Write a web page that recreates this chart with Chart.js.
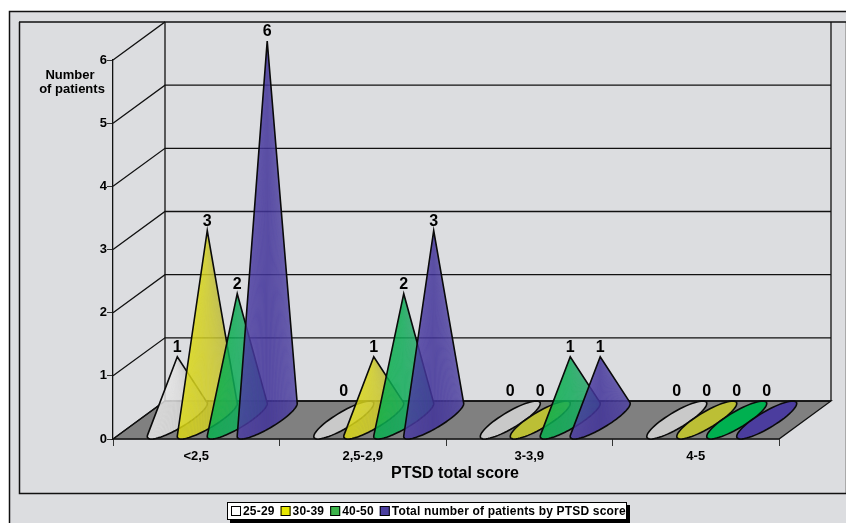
<!DOCTYPE html>
<html>
<head>
<meta charset="utf-8">
<script src="https://cdn.jsdelivr.net/npm/chart.js@4"></script>
<style>
    body { margin: 0; background: #fff; }
    canvas { display: block; }
</style>
</head>
<body>
<canvas id="myChart" width="846" height="523"></canvas>
<script>
const categories = ['<2,5', '2,5-2,9', '3-3,9', '4-5'];
const seriesNames = ['25-29', '30-39', '40-50', 'Total number of patients by PTSD score'];
const age2529 = [1, 0, 0, 0];
const age3039 = [3, 1, 0, 0];
const age4050 = [2, 2, 1, 0];
const totals = [6, 3, 1, 0];
const legendColors = ['#ffffff', '#e6e600', '#3cb34a', '#4b3f9f'];
const flatColors = ['#c9c9c9', '#bcbf35', '#00b050', '#4b3d9e'];
// left, middle and right shade of each cone
const coneShades = [
    [[245, 245, 245], [222, 222, 222], [178, 178, 178]],
    [[232, 230, 0], [208, 205, 40], [170, 168, 85]],
    [[0, 180, 65], [18, 172, 90], [60, 160, 120]],
    [[88, 74, 172], [66, 52, 154], [98, 88, 172]],
];

const PANEL = '#dcdde0';
const FLOOR = '#808080';
const DEPTH_X = 52;
const DEPTH_Y = 38;
const FONT = '"Liberation Sans", Arial, sans-serif';

const mix = (a, b, k) => a.map((v, i) => Math.round(v + (b[i] - v) * k));

const shadeAt = (shades, k, alpha) => {
    const c = k < 0.5 ? mix(shades[0], shades[1], k * 2) : mix(shades[1], shades[2], k * 2 - 1);
    return `rgba(${c[0]},${c[1]},${c[2]},${alpha})`;
};

const drawFrame = (ctx, w, h) => {
    ctx.fillStyle = PANEL;
    ctx.fillRect(9, 11, w - 9, h - 11);
    ctx.fillStyle = '#aaa';
    ctx.fillRect(w - 1, 22, 1, 471);
    ctx.strokeStyle = '#111';
    ctx.lineWidth = 1.5;
    ctx.beginPath();
    ctx.moveTo(9.5, h);
    ctx.lineTo(9.5, 11.5);
    ctx.lineTo(w, 11.5);
    ctx.moveTo(19.5, 22);
    ctx.lineTo(19.5, 493.5);
    ctx.lineTo(w, 493.5);
    ctx.stroke();
};

// boxed legend with a hard shadow
const drawLegend = (ctx) => {
    const bx = 227;
    const by = 502;
    const bw = 400;
    const bh = 18;
    ctx.fillStyle = '#000';
    ctx.fillRect(bx + 3, by + 3, bw, bh);
    ctx.fillStyle = '#fff';
    ctx.fillRect(bx, by, bw, bh);
    ctx.strokeStyle = '#000';
    ctx.lineWidth = 1;
    ctx.strokeRect(bx + 0.5, by + 0.5, bw - 1, bh - 1);

    ctx.font = `bold 12px ${FONT}`;
    ctx.letterSpacing = '0.18px';
    ctx.textAlign = 'left';
    ctx.textBaseline = 'middle';
    let x = 231;
    seriesNames.forEach((name, i) => {
        ctx.fillStyle = legendColors[i];
        ctx.fillRect(x, by + 4, 10, 10);
        ctx.strokeRect(x + 0.5, by + 4.5, 9, 9);
        ctx.fillStyle = '#000';
        ctx.fillText(name, x + 12, by + 9.5);
        x += 12 + ctx.measureText(name).width + 6;
    });
    ctx.letterSpacing = '0px';
};

const drawWalls = (chart) => {
    const { ctx } = chart;
    const { x: xs, y: ys } = chart.scales;
    const left = xs.left;
    const right = xs.right;
    const base = ys.getPixelForValue(0);
    const top = ys.getPixelForValue(6);

    ctx.fillStyle = FLOOR;
    ctx.strokeStyle = '#111';
    ctx.lineWidth = 1.3;
    ctx.beginPath();
    ctx.moveTo(left, base);
    ctx.lineTo(right, base);
    ctx.lineTo(right + DEPTH_X, base - DEPTH_Y);
    ctx.lineTo(left + DEPTH_X, base - DEPTH_Y);
    ctx.closePath();
    ctx.fill();
    ctx.stroke();

    ys.ticks.forEach((tick) => {
        const y = ys.getPixelForValue(tick.value);
        ctx.beginPath();
        ctx.moveTo(left, y);
        ctx.lineTo(left + DEPTH_X, y - DEPTH_Y);
        ctx.lineTo(right + DEPTH_X, y - DEPTH_Y);
        ctx.stroke();
    });

    ctx.beginPath();
    ctx.moveTo(left + DEPTH_X, base - DEPTH_Y);
    ctx.lineTo(left + DEPTH_X, top - DEPTH_Y);
    ctx.moveTo(right + DEPTH_X, base - DEPTH_Y);
    ctx.lineTo(right + DEPTH_X, top - DEPTH_Y);
    ctx.moveTo(19, top - DEPTH_Y);
    ctx.lineTo(left + DEPTH_X, top - DEPTH_Y);
    ctx.moveTo(right + DEPTH_X, top - DEPTH_Y);
    ctx.lineTo(chart.width, top - DEPTH_Y);
    ctx.stroke();
};

// ellipse of a cone foot on the floor: width along x, depth along the slanted edge
const footPoint = (cx, cy, rx, t) => ({
    x: cx + Math.cos(t) * rx + Math.sin(t) * DEPTH_X / 2,
    y: cy - Math.sin(t) * DEPTH_Y / 2,
});

const traceFoot = (ctx, cx, cy, rx, from, to) => {
    for (let i = 0; i <= 60; i++) {
        const p = footPoint(cx, cy, rx, from + (to - from) * i / 60);
        ctx.lineTo(p.x, p.y);
    }
};

const drawCone = (ctx, bar, base, seriesIndex, value) => {
    const rx = bar.width / 2;
    const cx = bar.x + DEPTH_X / 2;
    const cy = base - DEPTH_Y / 2;
    const apex = { x: cx, y: bar.y - DEPTH_Y / 2 };
    ctx.strokeStyle = '#0a0a0a';
    ctx.lineWidth = 1.6;

    if (value === 0) {
        ctx.beginPath();
        const start = footPoint(cx, cy, rx, 0);
        ctx.moveTo(start.x, start.y);
        traceFoot(ctx, cx, cy, rx, 0, Math.PI * 2);
        ctx.closePath();
        ctx.fillStyle = flatColors[seriesIndex];
        ctx.fill();
        ctx.stroke();
        return;
    }

    // tangent points of the silhouette, seen from the apex
    const height = cy - apex.y;
    const reach = Math.hypot(rx, DEPTH_X / 2);
    const phi = Math.atan2(DEPTH_X / 2, rx);
    const bend = Math.asin((rx * DEPTH_Y / 2) / (height * reach));
    const from = phi + Math.PI - bend;
    const to = phi + bend + Math.PI * 2;

    // body first so the fan seams do not show the floor through
    ctx.beginPath();
    ctx.moveTo(apex.x, apex.y);
    traceFoot(ctx, cx, cy, rx, from, to);
    ctx.closePath();
    ctx.fillStyle = shadeAt(coneShades[seriesIndex], 0.5, 0.68);
    ctx.fill();

    const steps = 56;
    for (let i = 0; i < steps; i++) {
        const a = footPoint(cx, cy, rx, from + (to - from) * i / steps);
        const b = footPoint(cx, cy, rx, from + (to - from) * (i + 1) / steps);
        ctx.beginPath();
        ctx.moveTo(apex.x, apex.y);
        ctx.lineTo(a.x, a.y);
        ctx.lineTo(b.x, b.y);
        ctx.closePath();
        ctx.fillStyle = shadeAt(coneShades[seriesIndex], i / (steps - 1), 0.6);
        ctx.fill();
    }

    ctx.beginPath();
    ctx.moveTo(apex.x, apex.y);
    traceFoot(ctx, cx, cy, rx, from, to);
    ctx.closePath();
    ctx.stroke();
};

const conePlugin = {
    id: 'cones',
    beforeDraw: (chart) => {
        drawFrame(chart.ctx, chart.width, chart.height);
        drawLegend(chart.ctx);
    },
    beforeDatasetsDraw: (chart) => {
        const { ctx } = chart;
        const ys = chart.scales.y;
        const base = ys.getPixelForValue(0);
        drawWalls(chart);

        // axis captions sit off-centre and unrotated, so they are placed by hand
        ctx.fillStyle = '#000';
        ctx.font = `bold 13px ${FONT}`;
        ctx.textAlign = 'center';
        ctx.textBaseline = 'middle';
        ctx.fillText('Number', 70, 75);
        ctx.fillText('of patients', 72, 89);
        ctx.font = `bold 16px ${FONT}`;
        ctx.fillText('PTSD total score', 455, 474);

        categories.forEach((cat, j) => {
            chart.data.datasets.forEach((ds, i) => {
                drawCone(ctx, chart.getDatasetMeta(i).data[j], base, i, ds.data[j]);
            });
        });

        ctx.fillStyle = '#000';
        ctx.font = `bold 16px ${FONT}`;
        ctx.textBaseline = 'middle';
        categories.forEach((cat, j) => {
            chart.data.datasets.forEach((ds, i) => {
                const bar = chart.getDatasetMeta(i).data[j];
                const y = ds.data[j] === 0 ? base - DEPTH_Y : bar.y - DEPTH_Y / 2;
                ctx.fillText(ds.data[j], bar.x + DEPTH_X / 2, y - 9);
            });
        });
        // cones replace the plain bars
        return false;
    },
};

const seriesValues = [age2529, age3039, age4050, totals];

new Chart(document.getElementById('myChart'), {
    type: 'bar',
    data: {
        labels: categories,
        datasets: seriesValues.map((data, i) => ({
            label: seriesNames[i],
            data,
            backgroundColor: legendColors[i],
        })),
    },
    options: {
        responsive: false,
        animation: false,
        devicePixelRatio: 1,
        layout: { padding: { left: 76, right: 67, top: 60, bottom: 2 } },
        datasets: { bar: { categoryPercentage: 0.72, barPercentage: 1 } },
        scales: {
            x: {
                afterFit: (scale) => { scale.height = 82; },
                border: { color: '#111', width: 1.3 },
                grid: { drawOnChartArea: false, tickLength: 7, color: '#333' },
                ticks: { color: '#000', font: { family: FONT, weight: 'bold', size: 13 }, padding: 3 },
            },
            y: {
                min: 0,
                max: 6,
                afterFit: (scale) => { scale.width = 37; },
                border: { color: '#111', width: 1.3 },
                grid: { drawOnChartArea: false, tickLength: 6, color: '#333' },
                ticks: { stepSize: 1, color: '#000', font: { family: FONT, weight: 'bold', size: 13 }, padding: 0 },
            },
        },
        plugins: {
            tooltip: { enabled: false },
            legend: { display: false },
        },
    },
    plugins: [conePlugin],
});
</script>
</body>
</html>
